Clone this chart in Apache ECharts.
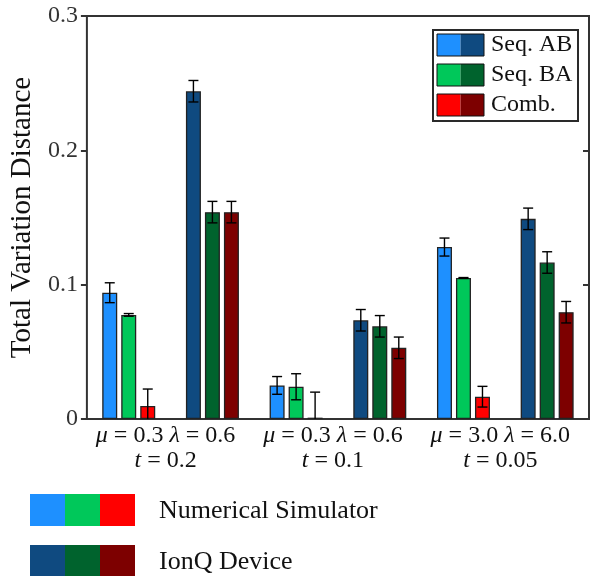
<!DOCTYPE html>
<html>
<head>
<meta charset="utf-8">
<script src="https://cdn.jsdelivr.net/npm/echarts@6/dist/echarts.min.js"></script>
<style>
  html, body { margin: 0; padding: 0; background: #fff; }
  #chart { width: 592px; height: 576px; }
</style>
</head>
<body>
<div id="chart"></div>
<script>
// six slots: simulator / device for each parameter set
const categories = ['sim1', 'dev1', 'sim2', 'dev2', 'sim3', 'dev3'];
const groupLabels = [
  '{i|μ} = 0.3 {i|λ} = 0.6\n{i|t} = 0.2',
  '{i|μ} = 0.3 {i|λ} = 0.6\n{i|t} = 0.1',
  '{i|μ} = 3.0 {i|λ} = 6.0\n{i|t} = 0.05'
];
const seriesNames = ['Seq. AB', 'Seq. BA', 'Comb.'];
const sourceNames = ['Numerical Simulator', 'IonQ Device'];

const seqAB    = [0.094, 0.244, 0.025, 0.0735, 0.128, 0.149];
const seqABErr = [0.0074, 0.008, 0.0066, 0.008, 0.0067, 0.008];
const seqBA    = [0.0775, 0.154, 0.024, 0.069, 0.105, 0.1165];
const seqBAErr = [0.001, 0.008, 0.0097, 0.008, 0.0003, 0.008];
const comb     = [0.0097, 0.154, 0.001, 0.053, 0.0166, 0.0795];
const combErr  = [0.0126, 0.008, 0.019, 0.008, 0.0077, 0.008];

const yTicks = [0, 0.1, 0.2, 0.3];

// colours: light = simulator, dark = IonQ device
const simColors = ['#1E90FF', '#00C85A', '#FF0000'];
const devColors = ['#0F4A80', '#00632D', '#7D0000'];

const FONT = 'Liberation Serif';
const barWidth = 15;
const barStep = 19; // bar width + gap

var chartDom = document.getElementById('chart');
var myChart = echarts.init(chartDom);

const values = [seqAB, seqBA, comb];
const errors = [seqABErr, seqBAErr, combErr];

const barSeries = values.map((vals, s) => ({
  name: seriesNames[s],
  type: 'bar',
  barWidth: barWidth,
  barGap: ((barStep - barWidth) / barWidth * 100) + '%',
  data: vals.map((v, i) => ({
    value: v,
    itemStyle: { color: i % 2 === 0 ? simColors[s] : devColors[s] }
  })),
  itemStyle: { borderColor: '#222', borderWidth: 1.3 },
  z: 2
}));

const errSeries = values.map((vals, s) => ({
  type: 'custom',
  xAxisIndex: 0,
  yAxisIndex: 0,
  z: 5,
  data: vals.map((v, i) => [i, v - errors[s][i], v + errors[s][i]]),
  encode: { x: 0, y: [1, 2] },
  renderItem: function (params, api) {
    const i = api.value(0);
    const zeroY = api.coord([i, 0])[1];
    const lo = api.coord([i, api.value(1)]);
    const hi = api.coord([i, api.value(2)]);
    const x = lo[0] + (s - 1) * barStep;
    const loY = Math.min(lo[1], zeroY);
    const half = 5;
    const style = { stroke: '#000', lineWidth: 1.4 };
    const children = [
      { type: 'line', shape: { x1: x, y1: loY, x2: x, y2: hi[1] }, style: style },
      { type: 'line', shape: { x1: x - half, y1: hi[1], x2: x + half, y2: hi[1] }, style: style }
    ];
    if (lo[1] <= zeroY) {
      children.push({ type: 'line', shape: { x1: x - half, y1: lo[1], x2: x + half, y2: lo[1] }, style: style });
    }
    return { type: 'group', children: children };
  }
}));

// legend drawn as graphics (two-tone swatches)
const graphics = [];
graphics.push({
  type: 'rect', left: 432, top: 29, z: 50,
  shape: { width: 145, height: 91 },
  style: { fill: '#fff', stroke: '#2a2a2a', lineWidth: 2 }
});
seriesNames.forEach((name, r) => {
  const y = 34 + r * 30;
  graphics.push({ type: 'rect', x: 437, y: y, z: 51, shape: { width: 23.5, height: 22 }, style: { fill: simColors[r] } });
  graphics.push({ type: 'rect', x: 460.5, y: y, z: 51, shape: { width: 23.5, height: 22 }, style: { fill: devColors[r] } });
  graphics.push({ type: 'rect', x: 437, y: y, z: 52, shape: { width: 47, height: 22 }, style: { fill: null, stroke: '#111', lineWidth: 1 } });
  graphics.push({
    type: 'text', x: 491, y: y + 11, z: 52,
    style: { text: name, font: '24px "' + FONT + '"', fill: '#111', verticalAlign: 'middle' }
  });
});
sourceNames.forEach((name, r) => {
  const y = 494 + r * 51;
  const cols = r === 0 ? simColors : devColors;
  cols.forEach((c, k) => {
    graphics.push({ type: 'rect', x: 30 + k * 35, y: y, shape: { width: 35, height: 32 }, style: { fill: c } });
  });
  graphics.push({
    type: 'text', x: 159, y: y + 17,
    style: { text: name, font: '26px "' + FONT + '"', fill: '#111', verticalAlign: 'middle' }
  });
});

const option = {
  backgroundColor: '#fff',
  animation: false,
  textStyle: { fontFamily: FONT },
  grid: {
    left: 80, right: 3, top: 16, bottom: 157,
    show: true, borderColor: '#333', borderWidth: 2, backgroundColor: 'transparent'
  },
  xAxis: [
    {
      type: 'category',
      data: categories,
      axisLine: { show: false },
      axisTick: { show: false },
      axisLabel: { show: false }
    },
    {
      type: 'category',
      data: groupLabels,
      position: 'bottom',
      axisLine: { show: false },
      axisTick: { show: false },
      axisLabel: {
        interval: 0,
        hideOverlap: false,
        margin: 4,
        padding: [0, 10, 0, 0],
        color: '#111',
        fontFamily: FONT,
        fontSize: 24,
        lineHeight: 25,
        rich: {
          i: { fontStyle: 'italic', fontFamily: FONT, fontSize: 24, lineHeight: 25, color: '#111' }
        }
      }
    }
  ],
  yAxis: [
    {
      type: 'value',
      min: yTicks[0],
      max: yTicks[yTicks.length - 1],
      interval: 0.1,
      name: 'Total Variation Distance',
      nameLocation: 'middle',
      nameGap: 44,
      nameTextStyle: { fontFamily: FONT, fontSize: 29, color: '#111' },
      axisLine: { show: false },
      axisTick: { show: true, inside: false, length: 6, lineStyle: { color: '#333', width: 2 } },
      splitLine: { show: false },
      axisLabel: {
        margin: 9,
        color: '#333',
        fontFamily: FONT,
        fontSize: 24,
        formatter: v => (v === 0 ? '0' : v.toFixed(1))
      }
    },
    {
      type: 'value',
      position: 'right',
      min: yTicks[0],
      max: yTicks[yTicks.length - 1],
      interval: 0.1,
      axisLine: { show: false },
      axisTick: { show: true, inside: true, length: 6, lineStyle: { color: '#333', width: 2 } },
      axisLabel: { show: false },
      splitLine: { show: false }
    }
  ],
  graphic: graphics,
  series: barSeries.concat(errSeries)
};

option && myChart.setOption(option);
</script>
</body>
</html>
